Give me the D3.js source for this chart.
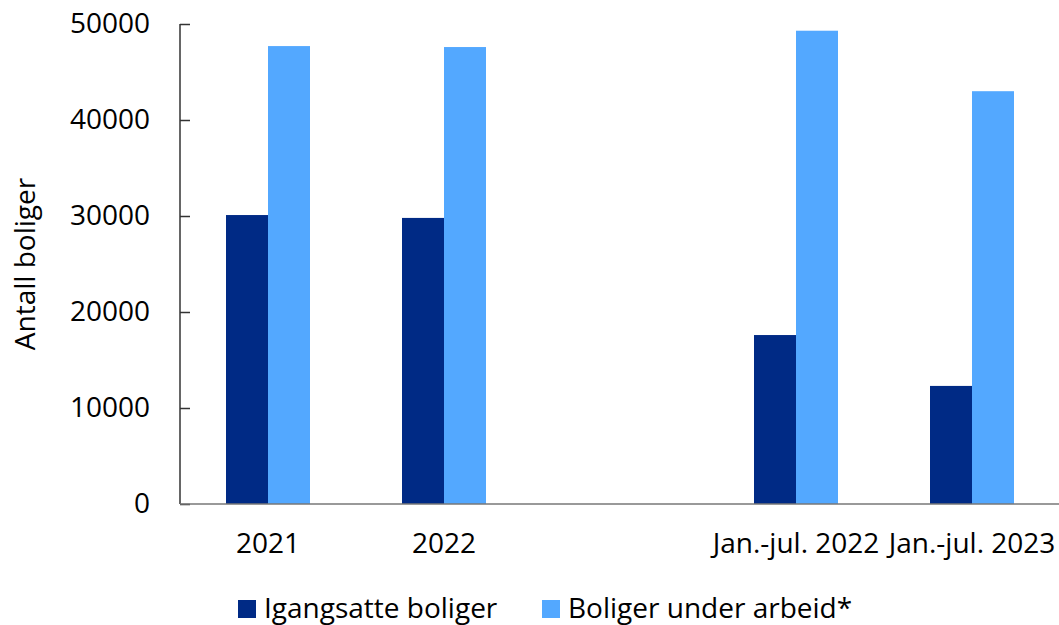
<!DOCTYPE html>
<html lang="no">
    <head>
        <meta charset="utf-8">
        <title>Boliger</title>
        <script type="text/javascript" src="https://cdn.jsdelivr.net/npm/d3@7"></script>
        <style>
            body { margin: 0; background: #fff; }
            text { font-family: "Open Sans", sans-serif; fill: #000; }
        </style>
    </head>
    <body>
        <script type="text/javascript">

        var w = 1059;
        var h = 625;

        var categories = ["2021", "2022", "", "Jan.-jul. 2022", "Jan.-jul. 2023"];
        var igangsatte = [30100, 29800, null, 17600, 12300];
        var underArbeid = [47700, 47600, null, 49300, 43000];
        var seriesNames = ["Igangsatte boliger", "Boliger under arbeid*"];
        var colors = ["#002a85", "#53a8ff"];
        var yTicks = [0, 10000, 20000, 30000, 40000, 50000];

        var fs = "28px";

        var svg = d3.select("body")
            .append("svg")
            .attr("width", w)
            .attr("height", h);

        var x = d3.scaleBand()
            .domain(d3.range(categories.length))
            .range([180, 1060]);

        var y = d3.scaleLinear()
            .domain([0, 50000])
            .range([504, 24]);

        var barW = 42;

        // bars
        [igangsatte, underArbeid].forEach(function(vals, s) {
            svg.append("g")
               .selectAll("rect")
               .data(vals.map(function(v, i) { return {i: i, v: v}; })
                         .filter(function(d) { return d.v !== null; }))
               .enter()
               .append("rect")
               .attr("x", function(d) {
                   return x(d.i) + x.bandwidth() / 2 - barW + s * barW;
               })
               .attr("y", function(d) { return y(d.v); })
               .attr("width", barW)
               .attr("height", function(d) { return y(0) - y(d.v); })
               .attr("fill", colors[s]);
        });

        // y axis, ticks pointing inward
        var yAxis = svg.append("g")
            .attr("transform", "translate(180,0)")
            .call(d3.axisRight(y).tickValues(yTicks).tickSize(10).tickFormat(d3.format("d")));
        yAxis.select(".domain").attr("d", "M0,24V504").attr("stroke", "#333").attr("stroke-width", 1.5);
        yAxis.selectAll(".tick line").attr("stroke", "#333").attr("stroke-width", 1.5);
        yAxis.selectAll(".tick text")
             .attr("x", -30)
             .attr("text-anchor", "end")
             .attr("font-size", fs)
             .attr("font-family", "Open Sans, sans-serif");

        // x baseline and labels
        var xAxis = svg.append("g")
            .attr("transform", "translate(0,504)")
            .call(d3.axisBottom(x).tickSize(0).tickFormat(function(i) { return categories[i]; }));
        xAxis.select(".domain").attr("d", "M180,0H1059").attr("stroke", "#777").attr("stroke-width", 1.5);
        xAxis.selectAll(".tick text")
             .attr("y", 29)
             .attr("dy", "0.71em")
             .attr("font-size", fs)
             .attr("font-family", "Open Sans, sans-serif");

        // y label
        svg.append("text")
           .attr("transform", "translate(35,264) rotate(-90)")
           .attr("text-anchor", "middle")
           .attr("font-size", fs)
           .text("Antall boliger");

        // legend
        var legendX = [238, 542];
        seriesNames.forEach(function(name, s) {
            svg.append("rect")
               .attr("x", legendX[s])
               .attr("y", 600)
               .attr("width", 18)
               .attr("height", 18)
               .attr("fill", colors[s]);
            svg.append("text")
               .attr("x", legendX[s] + 26)
               .attr("y", 618)
               .attr("font-size", fs)
               .text(name);
        });
        </script>
    </body>
</html>
